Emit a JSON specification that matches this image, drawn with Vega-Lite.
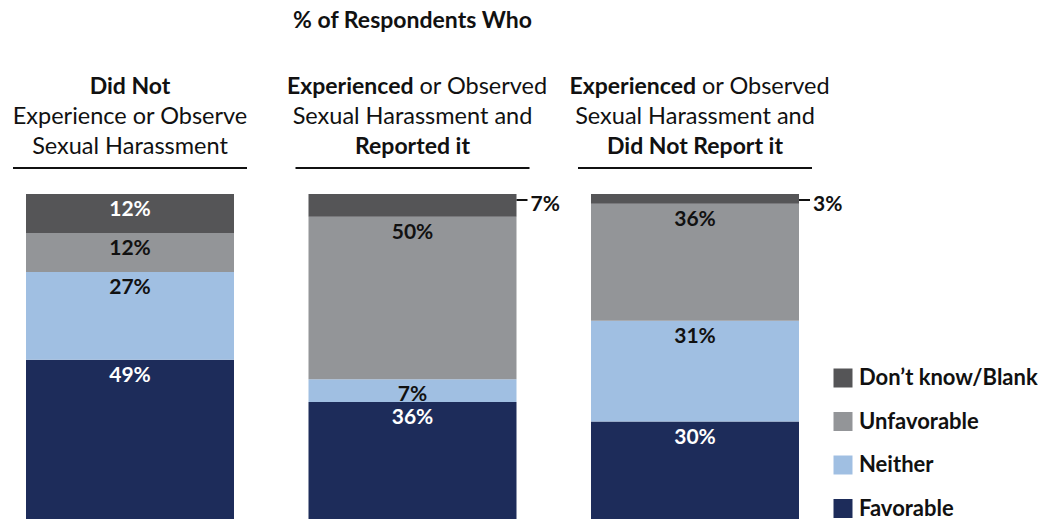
{
  "$schema": "https://vega.github.io/schema/vega-lite/v6.json",
  "padding": {"left": 12, "top": 10, "right": 0, "bottom": 0},
  "background": "white",
  "config": {"view": {"stroke": null}, "font": "Lato", "concat": {"spacing": 0}},
  "spacing": 0,
  "vconcat": [
    {
      "width": 773,
      "height": 140,
      "title": {"text": "% of Respondents Who", "fontSize": 23, "fontWeight": "bold", "color": "#111111", "anchor": "middle", "offset": 23, "dy": 2, "font": "Lato"},
      "data": {"values": [
        {"group": "Did not experience or observe", "line": 1, "style": "bold", "text": "Did Not"},
        {"group": "Did not experience or observe", "line": 2, "style": "normal", "text": "Experience or Observe"},
        {"group": "Did not experience or observe", "line": 3, "style": "normal", "text": "Sexual Harassment"},
        {"group": "Experienced/observed and reported", "line": 1, "style": "boldL", "text": "Experienced"},
        {"group": "Experienced/observed and reported", "line": 1, "style": "normalR", "text": "or Observed"},
        {"group": "Experienced/observed and reported", "line": 2, "style": "normal", "text": "Sexual Harassment and"},
        {"group": "Experienced/observed and reported", "line": 3, "style": "bold", "text": "Reported it"},
        {"group": "Experienced/observed and did not report", "line": 1, "style": "boldL", "text": "Experienced"},
        {"group": "Experienced/observed and did not report", "line": 1, "style": "normalR", "text": "or Observed"},
        {"group": "Experienced/observed and did not report", "line": 2, "style": "normal", "text": "Sexual Harassment and"},
        {"group": "Experienced/observed and did not report", "line": 3, "style": "bold", "text": "Did Not Report it"}
      ]},
      "encoding": {
        "x": {"field": "group", "type": "nominal", "sort": null,
              "scale": {"domain": ["Did not experience or observe", "Experienced/observed and reported", "Experienced/observed and did not report"], "paddingInner": 0.2637, "paddingOuter": 0},
              "axis": null}
      },
      "layer": [
        {
          "transform": [{"filter": "datum.style === 'bold'"}],
          "mark": {"type": "text", "fontSize": 23, "fontWeight": "bold", "baseline": "middle", "color": "#111111"},
          "encoding": {
            "y": {"field": "line", "type": "quantitative", "scale": {"domain": [-0.1, 4.567], "reverse": true}, "axis": null},
            "text": {"field": "text"}
          }
        },
        {
          "transform": [{"filter": "datum.style === 'normal'"}],
          "mark": {"type": "text", "fontSize": 23.5, "fontWeight": "normal", "baseline": "middle", "color": "#111111"},
          "encoding": {
            "y": {"field": "line", "type": "quantitative", "scale": {"domain": [-0.1, 4.567], "reverse": true}, "axis": null},
            "text": {"field": "text"}
          }
        },
        {
          "transform": [{"filter": "datum.style === 'boldL'"}],
          "mark": {"type": "text", "fontSize": 23, "fontWeight": "bold", "baseline": "middle", "align": "right", "dx": 1, "color": "#111111"},
          "encoding": {
            "y": {"field": "line", "type": "quantitative", "scale": {"domain": [-0.1, 4.567], "reverse": true}, "axis": null},
            "text": {"field": "text"}
          }
        },
        {
          "transform": [{"filter": "datum.style === 'normalR'"}],
          "mark": {"type": "text", "fontSize": 23.5, "fontWeight": "normal", "baseline": "middle", "align": "left", "dx": 7, "color": "#111111"},
          "encoding": {
            "y": {"field": "line", "type": "quantitative", "scale": {"domain": [-0.1, 4.567], "reverse": true}, "axis": null},
            "text": {"field": "text"}
          }
        },
        {
          "transform": [{"filter": "datum.line === 3"}],
          "mark": {"type": "rule", "xOffset": -13, "x2Offset": 13, "strokeWidth": 2, "color": "#111111"},
          "encoding": {
            "x": {"field": "group", "type": "nominal", "bandPosition": 0},
            "x2": {"field": "group", "bandPosition": 1},
            "y": {"datum": 3.7, "type": "quantitative", "scale": {"domain": [-0.1, 4.567], "reverse": true}, "axis": null}
          }
        }
      ]
    },
    {
      "width": 773,
      "height": 325,
      "data": {"values": [
        {"group": "Did not experience or observe", "response": "Favorable", "rank": 1, "value": 0.49},
        {"group": "Did not experience or observe", "response": "Neither", "rank": 2, "value": 0.27},
        {"group": "Did not experience or observe", "response": "Unfavorable", "rank": 3, "value": 0.12},
        {"group": "Did not experience or observe", "response": "Don’t know/Blank", "rank": 4, "value": 0.12},
        {"group": "Experienced/observed and reported", "response": "Favorable", "rank": 1, "value": 0.36},
        {"group": "Experienced/observed and reported", "response": "Neither", "rank": 2, "value": 0.07},
        {"group": "Experienced/observed and reported", "response": "Unfavorable", "rank": 3, "value": 0.50},
        {"group": "Experienced/observed and reported", "response": "Don’t know/Blank", "rank": 4, "value": 0.07},
        {"group": "Experienced/observed and did not report", "response": "Favorable", "rank": 1, "value": 0.30},
        {"group": "Experienced/observed and did not report", "response": "Neither", "rank": 2, "value": 0.31},
        {"group": "Experienced/observed and did not report", "response": "Unfavorable", "rank": 3, "value": 0.36},
        {"group": "Experienced/observed and did not report", "response": "Don’t know/Blank", "rank": 4, "value": 0.03}
      ]},
      "encoding": {
        "x": {"field": "group", "type": "nominal", "sort": null,
              "scale": {"domain": ["Did not experience or observe", "Experienced/observed and reported", "Experienced/observed and did not report"], "paddingInner": 0.2637, "paddingOuter": 0},
              "axis": null}
      },
      "layer": [
        {
          "mark": {"type": "bar"},
          "encoding": {
            "y": {"field": "value", "type": "quantitative", "stack": "zero", "scale": {"domain": [0, 1]}, "axis": null},
            "order": {"field": "rank", "type": "quantitative", "sort": "ascending"},
            "color": {
              "field": "response", "type": "nominal",
              "scale": {"domain": ["Don’t know/Blank", "Unfavorable", "Neither", "Favorable"], "range": ["#555557", "#939598", "#a0bfe2", "#1d2c5a"]},
              "legend": {"orient": "none", "legendX": 806, "legendY": 313, "title": null, "symbolType": "square", "symbolSize": 361, "symbolStrokeWidth": 0, "symbolOpacity": 1, "labelFontSize": 22, "labelFontWeight": "bold", "labelColor": "#111111", "labelFont": "Lato", "labelLimit": 400, "rowPadding": 21.5, "labelOffset": 5, "padding": 0}
            }
          }
        },
        {
          "mark": {"type": "text", "fontSize": 21, "fontWeight": "bold", "baseline": "middle", "dy": 16},
          "encoding": {
            "y": {"field": "value", "type": "quantitative", "stack": "zero"},
            "order": {"field": "rank", "type": "quantitative", "sort": "ascending"},
            "text": {"condition": {"test": "datum.rank === 4 && datum.value < 0.08", "value": ""}, "field": "value", "type": "quantitative", "format": ".0%"},
            "color": {"condition": {"test": "datum.rank === 1 || datum.rank === 4", "value": "white"}, "value": "#111111"}
          }
        },
        {
          "mark": {"type": "text", "fontSize": 21, "fontWeight": "bold", "baseline": "middle", "align": "left", "dx": 14, "dy": 11, "color": "#111111"},
          "encoding": {
            "x": {"field": "group", "type": "nominal", "bandPosition": 1},
            "y": {"datum": 1, "type": "quantitative"},
            "text": {"condition": {"test": "datum.rank === 4 && datum.value < 0.08", "field": "value", "type": "quantitative", "format": ".0%"}, "value": ""}
          }
        },
        {
          "mark": {"type": "rule", "x2Offset": 11, "yOffset": 6, "strokeWidth": 2, "color": "#111111"},
          "encoding": {
            "x": {"field": "group", "type": "nominal", "bandPosition": 1},
            "x2": {"field": "group", "bandPosition": 1},
            "y": {"datum": 1, "type": "quantitative"},
            "strokeOpacity": {"condition": {"test": "datum.rank === 4 && datum.value < 0.08", "value": 1}, "value": 0}
          }
        }
      ]
    }
  ]
}
